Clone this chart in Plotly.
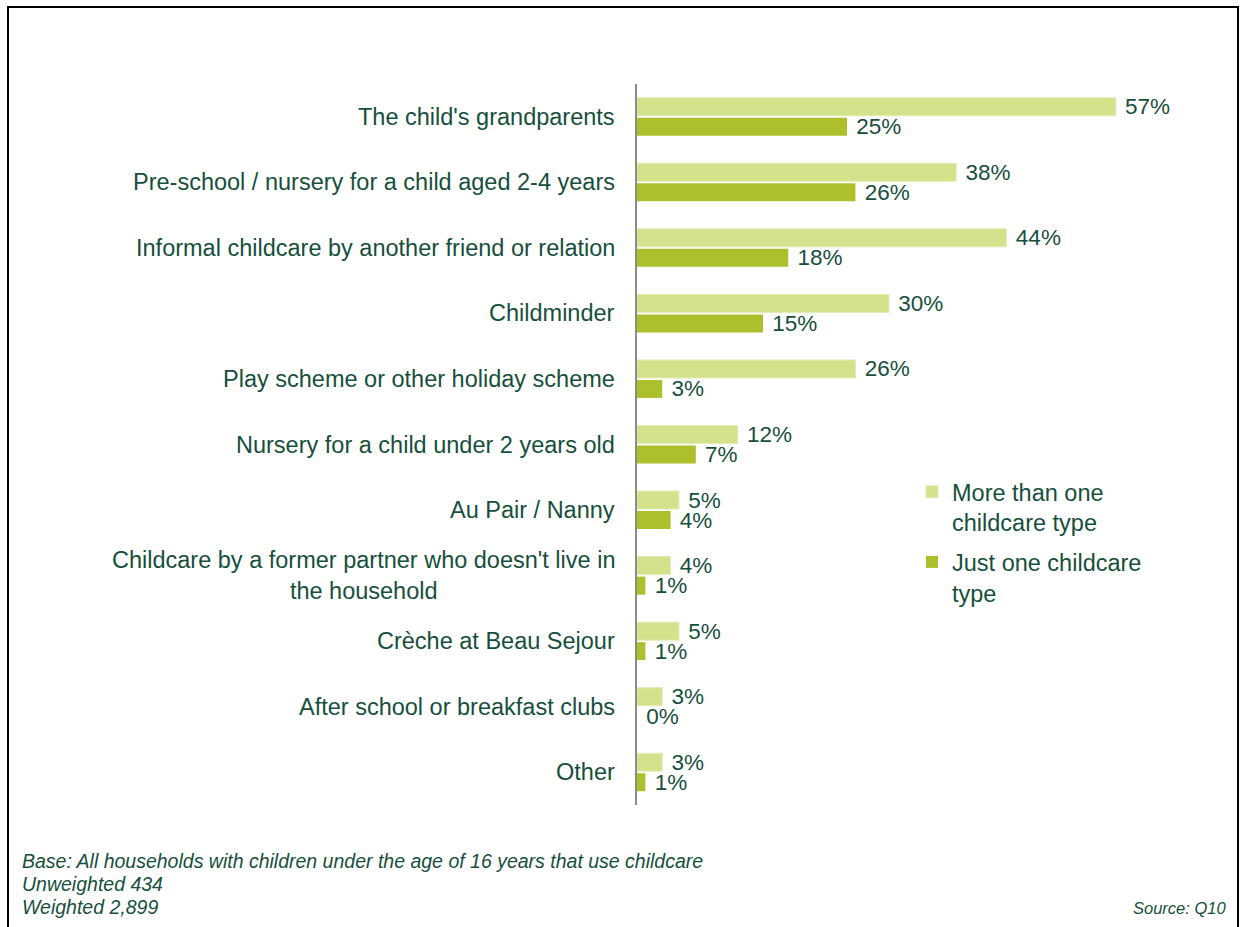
import plotly.graph_objects as go

# Childcare types used, by whether the household uses one or several types (%)
categories = [
    "The child's grandparents",
    "Pre-school / nursery for a child aged 2-4 years",
    "Informal childcare by another friend or relation",
    "Childminder",
    "Play scheme or other holiday scheme",
    "Nursery for a child under 2 years old",
    "Au Pair / Nanny",
    "Childcare by a former partner who doesn't live in<br>the household",
    "Crèche at Beau Sejour",
    "After school or breakfast clubs",
    "Other",
]
more_than_one = [57, 38, 44, 30, 26, 12, 5, 4, 5, 3, 3]
just_one = [25, 26, 18, 15, 3, 7, 4, 1, 1, 0, 1]

series_names = ["More than one<br>childcare type", "Just one childcare<br>type"]

FONT = "Arial, 'Liberation Sans', sans-serif"
TEXT = "#174f3d"
LIGHT = "#d4e38b"
DARK = "#adc02b"
MAIN_SIZE = 23.5
VALUE_SIZE = 22.5

W, H = 1242, 927
L, R, T, B = 637, 17, 84, 122
PW, PH = W - L - R, H - T - B


def px_x(x):
    return (x - L) / PW


def px_y(y):
    return (H - B - y) / PH


fig = go.Figure()
fig.add_trace(go.Bar(
    y=categories, x=more_than_one, orientation="h", name=series_names[0],
    marker=dict(color=LIGHT, line=dict(color="#e2ecb5", width=1)),
    texttemplate=" %{x}%", textposition="outside", cliponaxis=False,
    constraintext="none",
    textfont=dict(family=FONT, size=VALUE_SIZE, color=TEXT),
    legendgroup="a",
))
fig.add_trace(go.Bar(
    y=categories, x=just_one, orientation="h", name=series_names[1],
    marker=dict(color=DARK, line=dict(width=0)),
    texttemplate=" %{x}%", textposition="outside", cliponaxis=False,
    constraintext="none",
    textfont=dict(family=FONT, size=VALUE_SIZE, color=TEXT),
    legendgroup="b",
))

# Category labels, centred line by line
for c in categories:
    fig.add_annotation(
        x=0, xref="paper", y=c, yref="y", xanchor="right", xshift=-20,
        text=c, showarrow=False, align="center",
        font=dict(family=FONT, size=MAIN_SIZE, color=TEXT),
    )

# Footer notes
footer = [
    ("Base: All households with children under the age of 16 years that use childcare", 861),
    ("Unweighted 434", 884),
    ("Weighted 2,899", 907),
]
for txt, ypx in footer:
    fig.add_annotation(
        x=px_x(20), xref="paper", y=px_y(ypx), yref="paper",
        xanchor="left", yanchor="middle", text=f"<i>{txt}</i>", showarrow=False,
        font=dict(family=FONT, size=19.5, color=TEXT),
    )
fig.add_annotation(
    x=px_x(1228), xref="paper", y=px_y(908), yref="paper",
    xanchor="right", yanchor="middle", text="<i>Source: Q10</i>", showarrow=False,
    font=dict(family=FONT, size=16.5, color=TEXT),
)

# Frame around the whole chart
fig.add_shape(
    type="rect", xref="paper", yref="paper",
    x0=px_x(8), x1=px_x(1238), y0=px_y(935), y1=px_y(7),
    line=dict(color="black", width=2), fillcolor="rgba(0,0,0,0)", layer="above",
)

fig.update_layout(
    width=W, height=H,
    margin=dict(l=L, r=R, t=T, b=B),
    paper_bgcolor="white", plot_bgcolor="white",
    barmode="group", bargap=0.39, bargroupgap=0.1,
    font=dict(family=FONT, size=MAIN_SIZE, color=TEXT),
    xaxis=dict(range=[0, 70], visible=False, fixedrange=True),
    yaxis=dict(
        autorange="reversed", showticklabels=False, ticks="",
        showline=True, linecolor="#8c8c8c", linewidth=2, showgrid=False,
        zeroline=False,
    ),
    legend=dict(
        x=px_x(912), y=px_y(470), xanchor="left", yanchor="top",
        traceorder="grouped", tracegroupgap=6, valign="top",
        font=dict(family=FONT, size=MAIN_SIZE, color=TEXT),
        bgcolor="rgba(0,0,0,0)",
    ),
    showlegend=True,
)

fig.write_html("out.html")
